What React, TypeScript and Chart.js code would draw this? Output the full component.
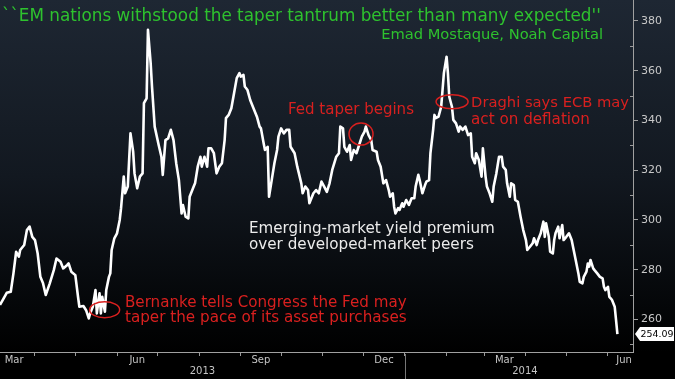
import React, { useEffect, useRef } from "react";
import { Chart, registerables } from "chart.js";

Chart.register(...registerables);

// days since 2013-01-01
const days = [64,66,69,72,74,76,78,79,82,84,86,88,90,92,94,96,98,101,104,106,109,111,114,115,117,120,122,123,126,128,130,131,133,135,136,138,139,140,142,143,145,146,147,149,151,153,154,156,157,159,161,163,164,166,168,170,171,173,174,176,177,179,182,184,185,187,189,191,193,195,197,199,200,202,204,205,208,209,211,213,214,216,218,219,221,223,225,227,229,231,232,234,236,238,240,242,243,245,246,248,250,252,255,257,258,260,261,263,264,266,268,270,271,273,275,277,279,280,283,285,288,289,291,293,294,297,299,301,303,305,307,309,311,314,316,317,319,320,322,324,325,327,329,331,333,335,336,338,340,341,344,345,347,349,351,353,354,356,357,358,360,361,363,364,366,368,370,372,373,375,376,378,380,381,383,384,386,387,388,390,392,393,394,396,397,398,400,401,403,405,406,408,410,412,414,415,417,418,420,422,423,425,426,428,430,431,433,435,437,438,440,441,443,444,446,447,449,451,453,455,456,458,460,461,463,464,466,468,469,470,472,473,475,476,477,479,480,482,483,485,487,489,490,492,494,495,497,498,500,501,502,503,505,506,508,510,512,513,514,516,517,518,519,521,522,523];
const values = [265.8,267.8,270.7,271.1,278.5,287.2,285.2,287.9,289.9,295.9,297.3,293.2,291.9,286.5,277.1,274.5,269.8,274.5,279.8,284.5,283.2,280.5,281.9,282.5,279.2,277.8,269.1,265.1,265.4,263.7,260.4,262.4,265.1,271.8,262.4,270.5,262.4,269.1,263.1,271.8,277.1,278.5,287.9,292.6,294.6,300,304.7,317.4,310.7,313.4,334.8,327.4,318.7,312.7,317.4,318.7,346.9,348.9,376.4,363,353.6,337.5,330,325.4,318.1,332.1,332.8,336.2,332.1,322.8,316,302.6,306,301.3,300.6,309.3,313.4,314.7,321.4,325.4,321.4,325.4,321.4,328.8,328.8,326.8,318.7,321.4,322.8,332.1,340.9,342.2,344.9,350.9,357,359,357.6,358.3,353.6,352.2,348.2,345.5,341.5,337.5,336.8,330.8,328.1,329.4,309.3,316,322.8,328.1,333.5,336.8,334.8,336.2,336.2,329.4,326.8,321.4,314.7,310.7,313.4,312,306.7,310.7,312,310.7,315.4,313.4,311.3,314.7,320.1,325.4,326.8,337.5,336.8,329.4,327.4,330.1,324.1,328.1,326.8,330.1,333.5,335.5,337.5,334.1,332.1,328.1,327.4,324.1,321.4,314.7,316,312,309.3,310.7,305.3,302.6,304.7,304,306.7,305.3,308,306,308.7,308.7,313.4,318.1,316,310.7,314,315.4,316,326.8,336.2,342.2,340.9,341.5,345.5,352.2,359,365.6,359,349.5,345.5,340.2,338.8,335.5,337.5,336.2,337.5,334.1,334.8,325.4,322.8,326.8,324.1,317.4,328.8,317.4,313.4,310.7,307.3,313.4,318.7,325.4,325.4,321.4,320.1,314.7,309.3,314.7,314,308,307.3,301.3,295.9,291.9,287.9,289.2,290.6,292.6,289.9,291.9,294.6,299.3,293.2,298.6,293.2,287.2,286.5,291.9,294.6,297.3,292.6,297.9,291.9,293.2,294.6,291.9,289.2,283.9,278.5,275.1,274.5,277.1,279.2,282.5,281.2,283.9,280.5,279.8,278.5,277.1,276.5,273.1,271.8,273.1,269.1,268.5,267.8,265.1,259.7,254.09];

const lastLabel = "254.09";

// month starts (days since 2013-01-01) for x tick marks
const monthStarts = [90, 120, 151, 181, 212, 243, 273, 304, 334, 365, 396, 424, 455, 485, 516];
// month labels centred in the month
const monthLabels = ["Mar", "Jun", "Sep", "Dec", "Mar", "Jun"];
const monthLabelDays = [74.5, 166, 258, 349.5, 439, 528];
const yearLabels = ["2013", "2014"];
const yearBoundary = 365;

const yTicks = [260, 280, 300, 320, 340, 360, 380];
const yMinorTicks = [250, 270, 290, 310, 330, 350, 370];

const X_MIN = 64;
const X_MAX = 534.6;
const Y_MIN = 246.9;
const Y_MAX = 388.4;

const titleText = "``EM nations withstood the taper tantrum better than many expected''";
const subtitleText = "Emad Mostaque, Noah Capital";

// annotations anchored in data coordinates
const notes = [
  { text: "Fed taper begins", day: 278.1, val: 344.0, width: 126, color: "#d9201f" },
  { text: "Draghi says ECB may", day: 414.2, val: 347.0, width: 158, color: "#d9201f" },
  { text: "act on deflation", day: 414.2, val: 340.3, width: 119, color: "#d9201f" },
  { text: "Bernanke tells Congress the Fed may", day: 156.9, val: 266.7, width: 282, color: "#d9201f" },
  { text: "taper the pace of its asset purchases", day: 156.9, val: 260.4, width: 282, color: "#d9201f" },
  { text: "Emerging-market yield premium", day: 249.1, val: 296.2, width: 246, color: "#ececec" },
  { text: "over developed-market peers", day: 249.1, val: 289.9, width: 225, color: "#ececec" },
];
const rings = [
  { day: 141.8, val: 263.9, rx: 15, ry: 8 },
  { day: 332.4, val: 334.5, rx: 12, ry: 11 },
  { day: 400.1, val: 347.5, rx: 16, ry: 7 },
];

const FONT = "'DejaVu Sans', sans-serif";

function fitText(ctx: CanvasRenderingContext2D, text: string, width: number, base: number) {
  ctx.font = `${base}px ${FONT}`;
  const w = ctx.measureText(text).width;
  const size = (base * width) / w;
  ctx.font = `${size.toFixed(2)}px ${FONT}`;
}

const decor = {
  id: "decor",
  beforeDraw(chart: any) {
    const { ctx, width, height } = chart;
    ctx.save();
    const g = ctx.createLinearGradient(0, 0, 0, 352);
    g.addColorStop(0, "#1e2733");
    g.addColorStop(0.5, "#121820");
    g.addColorStop(0.94, "#020304");
    g.addColorStop(1, "#000000");
    ctx.fillStyle = g;
    ctx.fillRect(0, 0, width, height);
    ctx.restore();
  },
  afterDraw(chart: any) {
    const { ctx, chartArea } = chart;
    const xs = chart.scales.x;
    const ys = chart.scales.y;
    ctx.save();
    // minor y ticks
    ctx.strokeStyle = "#9a9a9a";
    ctx.lineWidth = 1;
    yMinorTicks.forEach((v) => {
      const y = Math.round(ys.getPixelForValue(v)) + 0.5;
      ctx.beginPath();
      ctx.moveTo(chartArea.right - 3, y);
      ctx.lineTo(chartArea.right, y);
      ctx.stroke();
    });
    // x labels
    ctx.fillStyle = "#c4c4c4";
    ctx.font = `10px ${FONT}`;
    ctx.textAlign = "center";
    ctx.textBaseline = "middle";
    monthLabels.forEach((t, i) => {
      ctx.fillText(t, xs.getPixelForValue(monthLabelDays[i]), chartArea.bottom + 8);
    });
    const bx = xs.getPixelForValue(yearBoundary);
    ctx.fillText(yearLabels[0], (chartArea.left + bx) / 2, chartArea.bottom + 19);
    ctx.fillText(yearLabels[1], (bx + chartArea.right) / 2 + 6, chartArea.bottom + 19);
    ctx.strokeStyle = "#777";
    ctx.beginPath();
    ctx.moveTo(Math.round(bx) + 0.5, chartArea.bottom + 2);
    ctx.lineTo(Math.round(bx) + 0.5, chart.height);
    ctx.stroke();

    // last value tag
    const ly = ys.getPixelForValue(values[values.length - 1]);
    const x0 = chartArea.right + 2;
    ctx.fillStyle = "#ffffff";
    ctx.beginPath();
    ctx.moveTo(x0, ly);
    ctx.lineTo(x0 + 5, ly - 7);
    ctx.lineTo(674, ly - 7);
    ctx.lineTo(674, ly + 7);
    ctx.lineTo(x0 + 5, ly + 7);
    ctx.closePath();
    ctx.fill();
    ctx.fillStyle = "#000";
    fitText(ctx, lastLabel, 33, 10);
    ctx.textAlign = "center";
    ctx.fillText(lastLabel, (x0 + 5 + 674) / 2, ly + 0.5);

    // title
    ctx.textAlign = "left";
    ctx.fillStyle = "#2ec22e";
    fitText(ctx, titleText, 599, 15);
    ctx.fillText(titleText, 2, 17);
    ctx.textAlign = "right";
    fitText(ctx, subtitleText, 222, 13);
    ctx.fillText(subtitleText, 603, 35);

    // notes
    ctx.textAlign = "left";
    notes.forEach((n) => {
      ctx.fillStyle = n.color;
      fitText(ctx, n.text, n.width, 13);
      ctx.fillText(n.text, xs.getPixelForValue(n.day), ys.getPixelForValue(n.val));
    });
    ctx.strokeStyle = "#d9201f";
    ctx.lineWidth = 1.5;
    rings.forEach((r) => {
      ctx.beginPath();
      ctx.ellipse(xs.getPixelForValue(r.day), ys.getPixelForValue(r.val), r.rx, r.ry, 0, 0, Math.PI * 2);
      ctx.stroke();
    });
    ctx.restore();
  },
};

export default function App() {
  const ref = useRef<HTMLCanvasElement>(null);
  useEffect(() => {
    document.body.style.margin = "0";
    document.body.style.background = "#000";
    const chart = new Chart(ref.current!, {
      type: "line",
      data: {
        datasets: [
          {
            data: days.map((d, i) => ({ x: d, y: values[i] })),
            borderColor: "#ffffff",
            borderWidth: 2.6,
            pointRadius: 0,
            tension: 0,
            borderJoinStyle: "round",
          },
        ],
      },
      options: {
        animation: false,
        responsive: false,
        devicePixelRatio: 1,
        layout: { padding: 0 },
        plugins: { legend: { display: false }, tooltip: { enabled: false } },
        scales: {
          x: {
            type: "linear",
            min: X_MIN,
            max: X_MAX,
            afterBuildTicks: (s: any) => {
              s.ticks = monthStarts.map((v) => ({ value: v }));
            },
            afterFit: (s: any) => {
              s.height = 27;
              s.paddingLeft = 0;
              s.paddingRight = 0;
              s.paddingTop = 0;
              s.paddingBottom = 0;
            },
            ticks: { display: false },
            grid: { drawOnChartArea: false, drawTicks: true, tickLength: 4, color: "#9a9a9a" },
            border: { color: "#a0a0a0", width: 1 },
          },
          y: {
            position: "right",
            min: Y_MIN,
            max: Y_MAX,
            afterBuildTicks: (s: any) => {
              s.ticks = yTicks.map((v) => ({ value: v }));
            },
            afterFit: (s: any) => {
              s.width = 42;
              s.paddingTop = 0;
              s.paddingBottom = 0;
              s.paddingLeft = 0;
              s.paddingRight = 0;
            },
            ticks: { color: "#c8c8c8", font: { size: 11, family: "'DejaVu Sans', sans-serif" }, padding: 3 },
            grid: { drawOnChartArea: false, drawTicks: true, tickLength: 5, color: "#a0a0a0" },
            border: { color: "#a0a0a0", width: 1 },
          },
        },
      },
      plugins: [decor],
    } as any);
    return () => chart.destroy();
  }, []);
  return (
    <div style={{ width: 675, height: 379 }}>
      <canvas ref={ref} width={675} height={379} style={{ display: "block" }} />
    </div>
  );
}
